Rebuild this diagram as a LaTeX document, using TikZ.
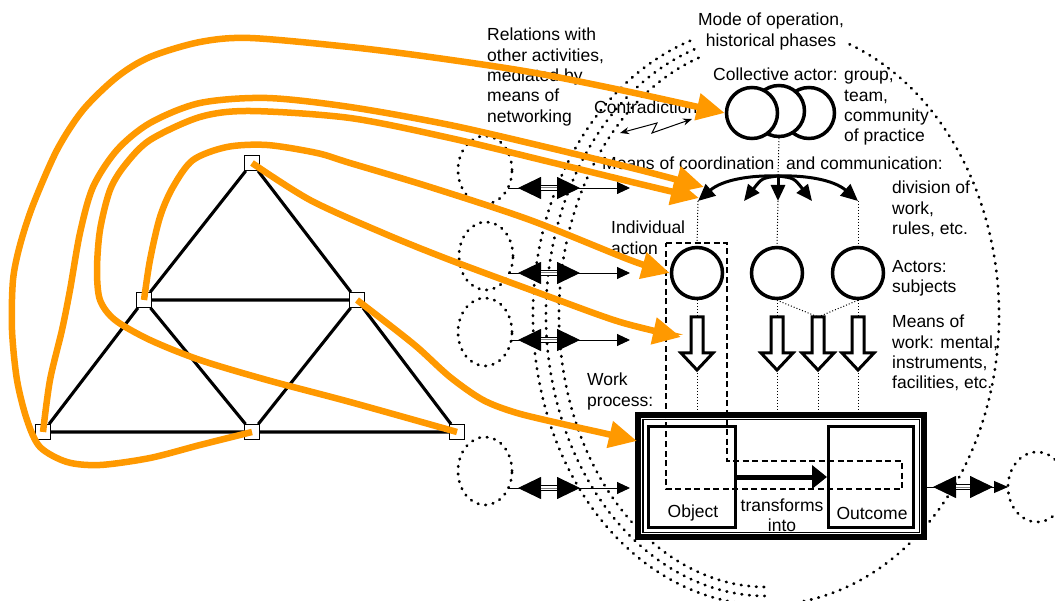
\documentclass[tikz,border=0pt]{standalone}
\usepackage{fontspec}
\setmainfont{Liberation Sans}
\usetikzlibrary{arrows.meta,shapes.geometric}
\definecolor{org}{RGB}{255,153,0}
\begin{document}
\begin{tikzpicture}[x=1pt,y=-1pt,
  txt/.style={font=\fontsize{17.5}{20.3}\selectfont, inner sep=0pt, align=left, anchor=north west},
  lbl/.style={font=\fontsize{17.5}{20.3}\selectfont, inner sep=0pt, align=center},
  dotline/.style={line width=2.8pt, dash pattern=on 0.6pt off 7pt, line cap=round},
  finedot/.style={line width=1pt, dash pattern=on 1pt off 2pt},
  orangearrow/.style={draw=org, line width=6.5pt, -{Triangle[length=28pt,width=26pt]}},
  triedge/.style={line width=3.1pt},
  vtx/.style={draw, fill=white, line width=0.8pt, minimum size=15pt, inner sep=0pt},
  actor/.style={circle, draw, line width=3.5pt, minimum size=51pt, inner sep=0pt, fill=white},
  other/.style={ellipse, draw, dotline, minimum width=54pt, minimum height=68pt, inner sep=0pt},
  thinarrow/.style={line width=0.9pt, -{Triangle[length=13pt,width=12pt]}},
  bigdouble/.style={line width=0.9pt, {Triangle[length=23pt,width=22pt]}-{Triangle[length=23pt,width=22pt]}},
  blackhead/.style={line width=3pt, -{Triangle[length=16pt,width=14pt]}},
  hollow/.pic={\draw[line width=3pt, fill=white, line join=miter] (-6,0) -- (6,0) -- (6,36) -- (16,36) -- (0,53) -- (-16,36) -- (-6,36) -- cycle;},
]
\useasboundingbox (0,0) rectangle (1055,601);
\clip (0,0) rectangle (1055,601);
\fill[white] (0,0) rectangle (1055,601);

% ---- activity boundary (historical phases) ----
\foreach \r/\s in {233/290, 220/281, 207/272}{
  \draw[dotline] (766,315) ++(251:{\r} and {\s}) arc[start angle=251, end angle=90, x radius=\r, y radius=\s];
}
\draw[dotline] (766,315) ++(-69:233 and 290) arc[start angle=-69, end angle=90, x radius=233, y radius=290];

% ---- other activities ----
\node[other] (o1) at (485,170) {};
\node[other] (o2) at (486,256) {};
\node[other] (o3) at (485,332) {};
\node[other] (o4) at (485,471) {};
\node[other, minimum width=58pt, minimum height=70pt] (o5) at (1037,487) {};

\foreach \i/\yy/\xs in {1/188/508, 2/273/508, 3/340/511, 4/488/508}{
  \coordinate (s\i) at (\xs,\yy);
  \coordinate (f\i) at (630,\yy);
  \coordinate (dl\i) at (518,\yy);
  \coordinate (dr\i) at (580,\yy);
  \draw[thinarrow] (s\i) -- (f\i);
  \draw[bigdouble] (dl\i) -- (dr\i);
  \fill[white] (541,\yy-2) rectangle (557,\yy+2);
  \draw[line width=1pt] (540,\yy-2.4) -- (558,\yy-2.4) (540,\yy+2.4) -- (558,\yy+2.4);
  \draw[gray, line width=1pt] (541,\yy) -- (557,\yy);
}

% ---- work process box ----
\node[draw, fill=white, line width=8.5pt, minimum width=283.5pt, minimum height=119.5pt, inner sep=0pt] (box) at (781,476) {};
\draw[white, line width=1.2pt] (641.5,418.5) rectangle (920.5,533.5);
\node[draw, line width=3.3pt, minimum width=86.7pt, minimum height=100.7pt, inner sep=0pt] (obj) at (692,477) {};
\node[draw, line width=3.3pt, minimum width=84.7pt, minimum height=100.7pt, inner sep=0pt] (outc) at (871,477) {};
\draw[line width=5pt, -{Triangle[length=15pt,width=23pt]}] (obj.east) -- (outc.west);
\node[lbl] (objl) at (693,513) {Object};
\node[lbl] (outl) at (872,513) {Outcome};
\node[lbl] (trl) at (782,515) {transforms\\into};

% right connector
\coordinate (rs) at (927,487);
\coordinate (rf) at (1008,487);
\coordinate (rdl) at (933,487);
\coordinate (rdr) at (993,487);
\draw[line width=0.9pt, -{Triangle[length=14pt,width=12pt]}] (rs) -- (rf);
\draw[bigdouble] (rdl) -- (rdr);
\fill[white] (956,485) rectangle (970,489);
\draw[line width=1pt] (955,484.6) -- (971,484.6) (955,489.4) -- (971,489.4);
\draw[gray, line width=1pt] (956,487) -- (970,487);

% ---- actors ----
\node[actor] (a1) at (697,273) {};
\node[actor] (a2) at (777,273) {};
\node[actor] (a3) at (858,273) {};

\coordinate (w1) at (697,317);
\coordinate (w2) at (777,317);
\coordinate (w3) at (818,317);
\coordinate (w4) at (858,317);
\coordinate (v1) at (697,370);
\coordinate (v2) at (777,370);
\coordinate (v3) at (818,370);
\coordinate (v4) at (858,370);

\draw[finedot] (a1.south) -- (w1);
\draw[finedot] (a2.south) -- (w2);
\draw[finedot] (a2.south) -- (w3);
\draw[finedot] (a3.south) -- (w3);
\draw[finedot] (a3.south) -- (w4);
\foreach \i in {1,2,3,4}{
  \draw[finedot] (v\i) -- (v\i |- box.north);
  \pic at (w\i) {hollow};
}

% individual action dashed frame
\draw[line width=1.5pt, dash pattern=on 6pt off 3.5pt] (666,243) -- (727,243) -- (727,461) -- (902,461) -- (902,489) -- (666,489) -- cycle;

% ---- collective actor ----
\node[actor] (c3) at (809,113) {};
\node[actor] (c2) at (779,111) {};
\node[actor] (c1) at (752,113) {};

% ---- coordination ----
\coordinate (cl) at (698,201);
\coordinate (cr) at (858,201);
\coordinate (cm) at (778,201);
\coordinate (pk) at (778,176);
\coordinate (ml) at (744,201);
\coordinate (mr) at (812,201);
\draw[finedot] (c2.south) -- (pk);
\draw[finedot] (cl) -- (a1.north);
\draw[finedot] (cm) -- (a2.north);
\draw[finedot] (cr) -- (a3.north);
\draw[line width=3pt, {Triangle[length=17pt,width=15pt]}-{Triangle[length=17pt,width=15pt]}] (cl) .. controls (722,180) and (750,175) .. (pk) .. controls (806,175) and (834,180) .. (cr);
\draw[blackhead] (pk) .. controls (762,178) .. (ml);
\draw[blackhead] (pk) -- (cm);
\draw[blackhead] (pk) .. controls (794,178) .. (mr);

% ---- texts ----
\node[lbl, anchor=north] (mode) at (771,13) {Mode of operation,\\historical phases};
\node[txt] (rel) at (487,28) {Relations with\\other activities,\\mediated by\\means of\\networking};
\node[txt] (coll) at (713,68) {Collective actor: group,\\\phantom{Collective actor: }team,\\\phantom{Collective actor: }community\\\phantom{Collective actor: }of practice};
\node[txt] (contr) at (594,101) {Contradiction};
\node[txt] (coord) at (602,157) {Means of coordination\hspace{7pt} and communication:};
\node[txt] (div) at (892,181) {division of\\work,\\rules, etc.};
\node[txt] (act) at (892,260) {Actors:\\subjects};
\node[txt] (mow) at (892,315) {Means of\\work: mental,\\instruments,\\facilities, etc.};
\node[txt] (ind) at (611,221) {Individual\\action};
\node[txt] (wp) at (587,373) {Work\\process:};

% contradiction zigzag
\coordinate (z1) at (620,133);
\coordinate (z2) at (692,119);
\draw[line width=1pt, {Stealth[length=9pt,width=7pt]}-{Stealth[length=9pt,width=7pt]}] (z1) -- (657,123) -- (652,133) -- (z2);

% ---- network triangle ----
\node[vtx] (t1) at (252,163) {};
\node[vtx] (m1) at (144,300) {};
\node[vtx] (m2) at (357,300) {};
\node[vtx] (b1) at (43,432) {};
\node[vtx] (b2) at (252,432) {};
\node[vtx] (b3) at (457,432) {};
\draw[triedge] (t1) -- (m1) (m1) -- (b1) (t1) -- (m2) (m2) -- (b3)
  (b1) -- (b2) (b2) -- (b3) (m1) -- (m2) (m1) -- (b2) (m2) -- (b2);

% ---- orange mediation links ----
\coordinate (k1) at (704,187);
\coordinate (k2) at (699,198);
\coordinate (k3) at (681,337);
\coordinate (k4) at (637,441);
\draw[orangearrow] plot[smooth] coordinates {(b2.center) (200,445) (150,458) (100,465) (67,462) (40,447) (27,420) (17,380) (12,330) (13,280) (20,245) (33,205) (57,150) (83,110) (117,77) (150,57) (200,42) (250,38) (350,47) (430,57) (530,72) (630,92) (c1.west)};
\draw[orangearrow] plot[smooth] coordinates {(b1.center) (50,380) (62,330) (70,290) (80,233) (93,187) (117,150) (150,123) (200,103) (267,98) (350,107) (450,125) (550,148) (640,170) (k1)};
\draw[orangearrow] plot[smooth] coordinates {(b3.center) (350,402) (267,380) (200,360) (150,340) (115,320) (100,300) (97,270) (100,230) (110,190) (125,165) (150,140) (200,117) (250,111) (350,118) (450,138) (550,162) (640,184) (k2)};
\draw[orangearrow] plot[smooth] coordinates {(m1.center) (150,260) (160,217) (173,187) (193,160) (227,147) (267,145) (317,153) (350,163) (430,187) (530,220) (630,260) (a1.west)};
\draw[orangearrow] plot[smooth] coordinates {(t1.center) (310,200) (383,233) (450,260) (550,297) (620,322) (k3)};
\draw[orangearrow] plot[smooth] coordinates {(m2.center) (383,320) (417,347) (450,377) (483,400) (517,413) (567,425) (603,433) (k4)};
\end{tikzpicture}
\end{document}
